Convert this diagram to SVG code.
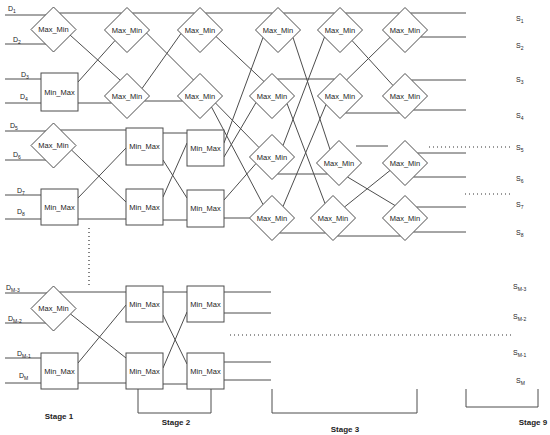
<svg xmlns="http://www.w3.org/2000/svg" width="550" height="435" viewBox="0 0 550 435">
<defs>
<style>
.w{stroke:#4d4d4d;stroke-width:1;fill:none}
.dot{stroke:#333;stroke-width:1.2;stroke-dasharray:1 3;fill:none}
.dm,.bx{fill:#fff;stroke:#4d4d4d;stroke-width:1}
.t{font-family:"Liberation Sans",Arial,sans-serif;font-size:7.5px;fill:#222;text-anchor:middle;dominant-baseline:central}
.lb{font-family:"Liberation Sans",Arial,sans-serif;font-size:7px;fill:#222}
.sb{font-size:5px}
.st{font-family:"Liberation Sans",Arial,sans-serif;font-size:8px;font-weight:bold;fill:#222;text-anchor:middle}
</style>
</defs>
<rect width="550" height="435" fill="#fff"/>

<g id="connectors" class="w">
<path d="M5,15H46M5,44H46M5,79H41M5,103H41M5,131H46M5,160H46M5,195H41M5,219H41M5,293H47M5,323H46M5,358H41M5,383H41"/>
<path d="M59.5,13H121.5M132.5,13H194.5M205.5,13H272.5M283.5,13H334.5M345.5,13H399.5M410.5,13H466"/>
<path d="M70,35L120,80M78,82L115,40.5M78,103H111.5"/>
<path d="M60.5,130H126M71.5,150L126,202M78,198L126,148M78,219H126"/>
<path d="M146.5,33L193.5,80M142,88.5L181,33.5M144.5,101H182.5"/>
<path d="M163,133H187M163,160L187,198M163,197L187,143M163,220H187"/>
<path d="M216,36.5L264,81.5M215.5,103L259,147.5M211.5,107L263,204.5M224,143L263,37.5M224,157L256,102.5M224,200L256,163.5M224,218H249.5"/>
<path d="M293,37.5L330,149.5M277.5,79H334.5M287,103.5L325,203.5M283,145.5L324.5,37M277.5,174H327.5M283,206.5L326,104.5M279.5,233H325.5"/>
<path d="M352,40.5L393,85.5M346.5,80L390,37.5M345.5,113H399.5M356,146H388M347.5,177L395,205.5M344.5,207L390,170.5M337.5,236H400.5"/>
<path d="M420.5,37H466M411.5,80H466M413.5,110H466M417.5,153H466M413.5,177H466M416.5,207H466M413.5,232H466"/>
<path d="M59.5,292H126M70.5,314L126,358M78,363L126,305M78,383H126"/>
<path d="M163,292H187M163,315L187,364M163,368L187,312M163,384H187"/>
<path d="M224,292H271M224,313H271M224,362H271M224,380H271"/>
<path d="M138,389V413H211V389M272,389V413H417V389M466,389V407H538V389"/>
<path class="dot" d="M89,228V285M230,335H512M429,147H513M465,194H510"/>
</g>

<g id="stage1">
<g id="s1a" transform="translate(53.5,29.5)"><polygon class="dm" points="0,-22.5 22.5,0 0,22.5 -22.5,0"/><text class="t">Max_Min</text></g>
<g id="s1b" transform="translate(41,73)"><rect class="bx" width="37" height="38"/><text class="t" x="18.5" y="19">Min_Max</text></g>
<g id="s1c" transform="translate(53.5,145.5)"><polygon class="dm" points="0,-22.5 22.5,0 0,22.5 -22.5,0"/><text class="t">Max_Min</text></g>
<g id="s1d" transform="translate(41,189)"><rect class="bx" width="37" height="36"/><text class="t" x="18.5" y="18">Min_Max</text></g>
<g id="s1e" transform="translate(53.5,308.5)"><polygon class="dm" points="0,-22.5 22.5,0 0,22.5 -22.5,0"/><text class="t">Max_Min</text></g>
<g id="s1f" transform="translate(41,353)"><rect class="bx" width="37" height="36"/><text class="t" x="18.5" y="18">Min_Max</text></g>
</g>

<g id="stage2">
<g id="s2a1" transform="translate(127,30)"><polygon class="dm" points="0,-22.5 22.5,0 0,22.5 -22.5,0"/><text class="t">Max_Min</text></g>
<g id="s2a2" transform="translate(127,96)"><polygon class="dm" points="0,-22.5 22.5,0 0,22.5 -22.5,0"/><text class="t">Max_Min</text></g>
<g id="s2a3" transform="translate(126,128)"><rect class="bx" width="37" height="37"/><text class="t" x="18.5" y="18.5">Min_Max</text></g>
<g id="s2a4" transform="translate(126,189)"><rect class="bx" width="37" height="36"/><text class="t" x="18.5" y="18">Min_Max</text></g>
<g id="s2a5" transform="translate(126,286)"><rect class="bx" width="37" height="36"/><text class="t" x="18.5" y="18">Min_Max</text></g>
<g id="s2a6" transform="translate(126,353)"><rect class="bx" width="37" height="36"/><text class="t" x="18.5" y="18">Min_Max</text></g>
<g id="s2b1" transform="translate(200,30)"><polygon class="dm" points="0,-22.5 22.5,0 0,22.5 -22.5,0"/><text class="t">Max_Min</text></g>
<g id="s2b2" transform="translate(200,96)"><polygon class="dm" points="0,-22.5 22.5,0 0,22.5 -22.5,0"/><text class="t">Max_Min</text></g>
<g id="s2b3" transform="translate(187,130)"><rect class="bx" width="37" height="36"/><text class="t" x="18.5" y="18">Min_Max</text></g>
<g id="s2b4" transform="translate(187,190)"><rect class="bx" width="37" height="37"/><text class="t" x="18.5" y="18.5">Min_Max</text></g>
<g id="s2b5" transform="translate(187,286)"><rect class="bx" width="37" height="36"/><text class="t" x="18.5" y="18">Min_Max</text></g>
<g id="s2b6" transform="translate(187,353)"><rect class="bx" width="37" height="36"/><text class="t" x="18.5" y="18">Min_Max</text></g>
</g>

<g id="stage3">
<g id="s3a1" transform="translate(278,30)"><polygon class="dm" points="0,-22.5 22.5,0 0,22.5 -22.5,0"/><text class="t">Max_Min</text></g>
<g id="s3a2" transform="translate(272,96)"><polygon class="dm" points="0,-22.5 22.5,0 0,22.5 -22.5,0"/><text class="t">Max_Min</text></g>
<g id="s3a3" transform="translate(272,157)"><polygon class="dm" points="0,-22.5 22.5,0 0,22.5 -22.5,0"/><text class="t">Max_Min</text></g>
<g id="s3a4" transform="translate(272,218)"><polygon class="dm" points="0,-22.5 22.5,0 0,22.5 -22.5,0"/><text class="t">Max_Min</text></g>
<g id="s3b1" transform="translate(340,30)"><polygon class="dm" points="0,-22.5 22.5,0 0,22.5 -22.5,0"/><text class="t">Max_Min</text></g>
<g id="s3b2" transform="translate(340,96)"><polygon class="dm" points="0,-22.5 22.5,0 0,22.5 -22.5,0"/><text class="t">Max_Min</text></g>
<g id="s3b3" transform="translate(339,163)"><polygon class="dm" points="0,-22.5 22.5,0 0,22.5 -22.5,0"/><text class="t">Max_Min</text></g>
<g id="s3b4" transform="translate(333,218)"><polygon class="dm" points="0,-22.5 22.5,0 0,22.5 -22.5,0"/><text class="t">Max_Min</text></g>
<g id="s3c1" transform="translate(405,30)"><polygon class="dm" points="0,-22.5 22.5,0 0,22.5 -22.5,0"/><text class="t">Max_Min</text></g>
<g id="s3c2" transform="translate(405,96)"><polygon class="dm" points="0,-22.5 22.5,0 0,22.5 -22.5,0"/><text class="t">Max_Min</text></g>
<g id="s3c3" transform="translate(405,163)"><polygon class="dm" points="0,-22.5 22.5,0 0,22.5 -22.5,0"/><text class="t">Max_Min</text></g>
<g id="s3c4" transform="translate(405,218)"><polygon class="dm" points="0,-22.5 22.5,0 0,22.5 -22.5,0"/><text class="t">Max_Min</text></g>
</g>

<g id="inputs" class="lb">
<text x="8" y="11">D<tspan class="sb" dy="2">1</tspan></text>
<text x="13" y="42">D<tspan class="sb" dy="2">2</tspan></text>
<text x="21" y="77">D<tspan class="sb" dy="2">3</tspan></text>
<text x="20" y="99">D<tspan class="sb" dy="2">4</tspan></text>
<text x="10" y="128">D<tspan class="sb" dy="2">5</tspan></text>
<text x="13" y="157">D<tspan class="sb" dy="2">6</tspan></text>
<text x="17" y="193">D<tspan class="sb" dy="2">7</tspan></text>
<text x="17" y="214">D<tspan class="sb" dy="2">8</tspan></text>
<text x="6" y="290">D<tspan class="sb" dy="2">M-3</tspan></text>
<text x="8" y="321">D<tspan class="sb" dy="2">M-2</tspan></text>
<text x="17" y="356">D<tspan class="sb" dy="2">M-1</tspan></text>
<text x="19" y="378">D<tspan class="sb" dy="2">M</tspan></text>
</g>

<g id="outputs" class="lb">
<text x="516" y="21">S<tspan class="sb" dy="2">1</tspan></text>
<text x="516" y="48">S<tspan class="sb" dy="2">2</tspan></text>
<text x="516" y="82">S<tspan class="sb" dy="2">3</tspan></text>
<text x="516" y="118">S<tspan class="sb" dy="2">4</tspan></text>
<text x="516" y="150">S<tspan class="sb" dy="2">5</tspan></text>
<text x="516" y="181">S<tspan class="sb" dy="2">6</tspan></text>
<text x="516" y="207">S<tspan class="sb" dy="2">7</tspan></text>
<text x="516" y="235">S<tspan class="sb" dy="2">8</tspan></text>
<text x="513" y="289">S<tspan class="sb" dy="2">M-3</tspan></text>
<text x="513" y="319">S<tspan class="sb" dy="2">M-2</tspan></text>
<text x="513" y="355">S<tspan class="sb" dy="2">M-1</tspan></text>
<text x="516" y="383">S<tspan class="sb" dy="2">M</tspan></text>
</g>

<g id="stages" class="st">
<text x="59" y="419">Stage 1</text>
<text x="176" y="425">Stage 2</text>
<text x="345" y="432">Stage 3</text>
<text x="533" y="425">Stage 9</text>
</g>
</svg>
